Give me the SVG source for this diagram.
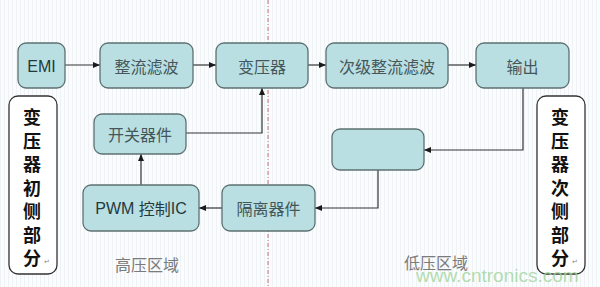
<svg xmlns="http://www.w3.org/2000/svg" width="600" height="287" viewBox="0 0 600 287">
<defs>
<pattern id="stripes" width="4" height="10" patternUnits="userSpaceOnUse">
<rect width="4" height="10" fill="#fbfcfd"/>
<rect x="0" width="1" height="10" fill="#eef2f5"/>
</pattern>
<marker id="arr" markerWidth="8" markerHeight="8" refX="7" refY="4" orient="auto" markerUnits="userSpaceOnUse">
<path d="M0,1 L7,4 L0,7 z" fill="#1a1a1a"/>
</marker>
<style>
.box{fill:#b9dfe2;stroke:#5d7072;stroke-width:1.3}
.side{fill:#ffffff;stroke:#333333;stroke-width:1.3}
.t{font-family:"Noto Sans CJK SC",sans-serif;font-size:16px;fill:#45575a;text-anchor:middle;dominant-baseline:central}
.e{font-family:"Liberation Sans","Noto Sans CJK SC",sans-serif;font-size:16px;fill:#24393d;text-anchor:middle;dominant-baseline:central}
.s{font-family:"Noto Sans CJK SC",sans-serif;font-size:18px;font-weight:bold;fill:#111111;text-anchor:middle;dominant-baseline:central}
.r{font-family:"DejaVu Sans",sans-serif;font-size:7px;fill:#888888}
.z{font-family:"Noto Sans CJK SC",sans-serif;font-size:16px;fill:#7b7b7b;text-anchor:middle}
.c{fill:none;stroke:#333333;stroke-width:1.2}
</style>
</defs>
<rect width="600" height="287" fill="url(#stripes)"/>
<line x1="268" y1="0" x2="268" y2="287" stroke="#d06a78" stroke-width="1" stroke-dasharray="4 2 1 2"/>

<g id="connectors">
<line class="c" x1="65" y1="65" x2="100" y2="65" marker-end="url(#arr)"/>
<line class="c" x1="193" y1="65" x2="216" y2="65" marker-end="url(#arr)"/>
<line class="c" x1="308" y1="65" x2="326" y2="65" marker-end="url(#arr)"/>
<line class="c" x1="448" y1="65" x2="476" y2="65" marker-end="url(#arr)"/>
<polyline class="c" points="523,88 523,150 424,150" marker-end="url(#arr)"/>
<polyline class="c" points="378,170 378,208 315,208" marker-end="url(#arr)"/>
<line class="c" x1="222" y1="208" x2="199" y2="208" marker-end="url(#arr)"/>
<line class="c" x1="141" y1="185" x2="141" y2="154" marker-end="url(#arr)"/>
<polyline class="c" points="186,133 262,133 262,88" marker-end="url(#arr)"/>
</g>

<g id="emi"><rect class="box" x="18" y="43" width="47" height="45" rx="8"/><text class="e" x="41.5" y="66">EMI</text></g>
<g id="rectifier"><rect class="box" x="100" y="43" width="93" height="45" rx="8"/><text class="t" x="146.5" y="66">整流滤波</text></g>
<g id="transformer"><rect class="box" x="216" y="43" width="92" height="45" rx="8"/><text class="t" x="262" y="66">变压器</text></g>
<g id="secondary"><rect class="box" x="326" y="43" width="122" height="45" rx="8"/><text class="t" x="387" y="66">次级整流滤波</text></g>
<g id="output"><rect class="box" x="476" y="43" width="93" height="45" rx="8"/><text class="t" x="522.5" y="66">输出</text></g>
<g id="switch"><rect class="box" x="94" y="114" width="92" height="40" rx="8"/><text class="t" x="140" y="134">开关器件</text></g>
<g id="pwm"><rect class="box" x="83" y="185" width="116" height="46" rx="8"/><text class="e" x="141" y="208">PWM <tspan font-family="Noto Sans CJK SC">控制</tspan>IC</text></g>
<g id="isolator"><rect class="box" x="222" y="185" width="93" height="46" rx="8"/><text class="t" x="268.5" y="208">隔离器件</text></g>
<g id="blank"><rect class="box" x="332" y="129" width="92" height="41" rx="8"/></g>

<g id="primary-side"><rect class="side" x="9" y="96" width="48" height="178" rx="9"/>
<text class="s" x="32" y="116">变</text><text class="s" x="32" y="139.5">压</text><text class="s" x="32" y="163">器</text><text class="s" x="32" y="186.5">初</text><text class="s" x="32" y="210">侧</text><text class="s" x="32" y="233.5">部</text><text class="s" x="32" y="257">分</text><text class="r" x="44" y="264">↵</text></g>
<g id="secondary-side"><rect class="side" x="537" y="96" width="48" height="178" rx="9"/>
<text class="s" x="560" y="116">变</text><text class="s" x="560" y="139.5">压</text><text class="s" x="560" y="163">器</text><text class="s" x="560" y="186.5">次</text><text class="s" x="560" y="210">侧</text><text class="s" x="560" y="233.5">部</text><text class="s" x="560" y="257">分</text><text class="r" x="572" y="264">↵</text></g>

<text class="z" x="147" y="271">高压区域</text>
<text class="z" x="436" y="269">低压区域</text>
<text x="416" y="282" font-family="Liberation Sans,sans-serif" font-size="19" fill="#9fd49a" fill-opacity="0.8">www.cntronics.com</text>
</svg>
